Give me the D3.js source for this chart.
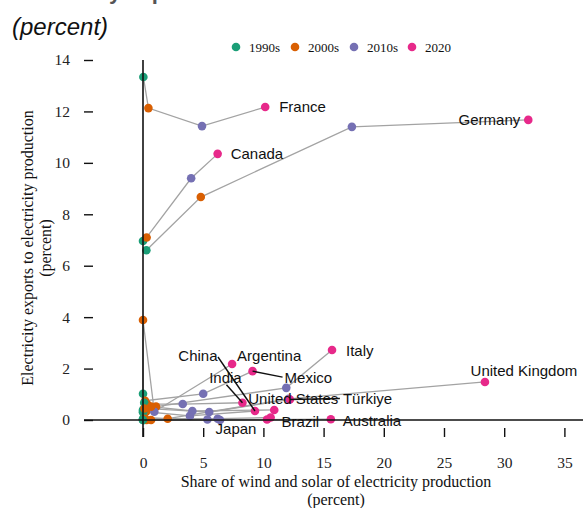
<!DOCTYPE html>
<html>
<head>
<meta charset="utf-8">
<script src="https://cdn.jsdelivr.net/npm/d3@7"></script>
<style>
  html, body { margin: 0; padding: 0; background: #fff; }
  svg { display: block; }
  .serif { font-family: "Liberation Serif", "Times New Roman", serif; }
  .sans { font-family: "Liberation Sans", Arial, sans-serif; }
</style>
</head>
<body>
<svg id="chart" width="585" height="508"></svg>
<script>
// Decades and countries
const decades = ["1990s", "2000s", "2010s", "2020"];
const countries = ["France", "Germany", "Canada", "Italy", "United Kingdom", "China",
  "Argentina", "India", "Mexico", "United States", "Türkiye", "Brazil", "Japan", "Australia"];

// Share of wind and solar in electricity production (%), per decade, by country
const windSolar1990s = [0.03, 0.28, 0.0, 0.0, 0.1, 0.0, 0.0, 0.1, 0.0, 0.1, 0.0, 0.0, 0.0, 0.0];
const windSolar2000s = [0.45, 4.8, 0.3, 1.08, 2.05, 0.25, 0.0, 0.34, 0.17, 0.67, 0.12, 0.1, 0.3, 0.67];
const windSolar2010s = [4.9, 17.35, 4.0, 11.9, 12.1, 3.9, 0.94, 3.3, 5.0, 4.1, 5.5, 6.2, 5.35, 6.4];
const windSolar2020  = [10.15, 32.0, 6.2, 15.7, 28.4, 9.3, 7.4, 8.26, 9.1, 10.9, 12.2, 10.6, 10.3, 15.6];

// Electricity exports as share of electricity production (%), per decade, by country
const exports1990s = [13.34, 6.6, 6.96, 0.35, 0.1, 0.05, 0.4, 0.0, 1.02, 0.67, 0.3, 0.02, 0.0, 0.0];
const exports2000s = [12.13, 8.67, 7.1, 0.52, 0.05, 0.32, 3.89, 0.62, 0.75, 0.52, 0.45, 0.05, 0.0, 0.0];
const exports2010s = [11.43, 11.4, 9.4, 1.25, 0.82, 0.16, 0.32, 0.62, 1.02, 0.35, 0.31, 0.05, 0.02, 0.0];
const exports2020  = [12.17, 11.67, 10.35, 2.72, 1.48, 0.35, 2.18, 0.67, 1.9, 0.39, 0.8, 0.1, 0.02, 0.03];

// Axis ticks
const xTicks = [0, 5, 10, 15, 20, 25, 30, 35];
const yTicks = [0, 2, 4, 6, 8, 10, 12, 14];

// ---- assemble rows ----
const xSeries = [windSolar1990s, windSolar2000s, windSolar2010s, windSolar2020];
const ySeries = [exports1990s, exports2000s, exports2010s, exports2020];
const tracks = countries.map((c, i) => ({
  country: c,
  pts: decades.map((d, k) => ({ country: c, decade: d, x: xSeries[k][i], y: ySeries[k][i] }))
}));
const allPts = tracks.flatMap(t => t.pts);

// ---- layout ----
const svg = d3.select("#chart");
const x = d3.scaleLinear().domain([0, 35]).range([143, 564.4]);
const y = d3.scaleLinear().domain([0, 14]).range([420, 60]);
const color = d3.scaleOrdinal().domain(decades).range(["#1b9e77", "#d95f02", "#7570b3", "#e7298a"]);

// Title (runs off the top edge) and subtitle
svg.append("text").attr("class", "sans")
  .attr("x", 16).attr("y", -1)
  .attr("font-size", 22).attr("font-weight", "bold").attr("fill", "#555")
  .text("Electricity exports and wind and solar");
svg.append("text").attr("class", "sans")
  .attr("x", 12).attr("y", 35)
  .attr("font-size", 24).attr("font-style", "italic").attr("fill", "#111")
  .text("(percent)");

// Legend
const legendX = [236, 295, 354, 412];
const legend = svg.append("g").attr("class", "serif");
decades.forEach((d, i) => {
  legend.append("circle").attr("cx", legendX[i]).attr("cy", 47).attr("r", 4.3).attr("fill", color(d));
  legend.append("text").attr("x", legendX[i] + 13).attr("y", 51.5)
    .attr("font-size", 13).attr("fill", "#111").text(d);
});

// Y axis (ticks to the left of the panel)
const yAxis = svg.append("g").attr("class", "serif")
  .attr("transform", "translate(93,0)")
  .call(d3.axisLeft(y).tickValues(yTicks).tickSize(9).tickPadding(14).tickFormat(d3.format("d")));
yAxis.select(".domain").remove();
yAxis.selectAll(".tick line").attr("stroke", "#111").attr("stroke-width", 1.4);
yAxis.selectAll(".tick text").attr("font-size", 15.5).attr("fill", "#222").attr("font-family", null);

// X axis (ticks below the panel)
const xAxis = svg.append("g").attr("class", "serif")
  .attr("transform", "translate(0,428)")
  .call(d3.axisBottom(x).tickValues(xTicks).tickSize(9).tickPadding(20).tickFormat(d3.format("d")));
xAxis.select(".domain").remove();
xAxis.selectAll(".tick line").attr("stroke", "#111").attr("stroke-width", 1.4);
xAxis.selectAll(".tick text").attr("font-size", 15.5).attr("fill", "#222").attr("font-family", null);

// Axis titles
svg.append("text").attr("class", "serif")
  .attr("text-anchor", "middle").attr("font-size", 16).attr("fill", "#111")
  .attr("x", 336).attr("y", 487).text("Share of wind and solar of electricity production");
svg.append("text").attr("class", "serif")
  .attr("text-anchor", "middle").attr("font-size", 16).attr("fill", "#111")
  .attr("x", 336).attr("y", 505).text("(percent)");
const yTitle = svg.append("g").attr("transform", "translate(33,248) rotate(-90)");
yTitle.append("text").attr("class", "serif").attr("text-anchor", "middle")
  .attr("font-size", 16).attr("fill", "#111").attr("y", 0)
  .text("Electricity exports to electricity production");
yTitle.append("text").attr("class", "serif").attr("text-anchor", "middle")
  .attr("font-size", 16).attr("fill", "#111").attr("y", 18)
  .text("(percent)");

// Trajectories 1990s -> 2020
const line = d3.line().x(d => x(d.x)).y(d => y(d.y));
svg.append("g").selectAll("path").data(tracks).join("path")
  .attr("d", d => line(d.pts))
  .attr("fill", "none").attr("stroke", "#a3a3a3").attr("stroke-width", 1.3);

// Points
svg.append("g").selectAll("circle").data(allPts).join("circle")
  .attr("cx", d => x(d.x)).attr("cy", d => y(d.y)).attr("r", 4.3)
  .attr("fill", d => color(d.decade));

// Reference lines at zero
svg.append("line").attr("x1", x(0)).attr("x2", x(0)).attr("y1", 60).attr("y2", 437)
  .attr("stroke", "#111").attr("stroke-width", 1.6);
svg.append("line").attr("x1", 84).attr("x2", 583).attr("y1", y(0)).attr("y2", y(0))
  .attr("stroke", "#111").attr("stroke-width", 1.6);

// Country labels at the 2020 point: offset, anchor, and optional leader end (relative to label)
const labelLayout = {
  "France":         { dx: 14,  dy: 0,   anchor: "start" },
  "Germany":        { dx: -8,  dy: 0,   anchor: "end" },
  "Canada":         { dx: 13,  dy: 0,   anchor: "start" },
  "Italy":          { dx: 14,  dy: 1,   anchor: "start" },
  "United Kingdom": { dx: 39,  dy: -11, anchor: "middle" },
  "China":          { dx: -57, dy: -55, anchor: "middle", lead: [20, 1] },
  "Argentina":      { dx: 5,   dy: -8,  anchor: "start" },
  "India":          { dx: -17, dy: -25, anchor: "middle", lead: [1, 7] },
  "Mexico":         { dx: 32,  dy: 7,   anchor: "start", lead: [-2, -1] },
  "United States":  { dx: 19,  dy: -11, anchor: "middle" },
  "Türkiye":        { dx: 53,  dy: -1,  anchor: "start", lead: [-3, 0] },
  "Brazil":         { dx: 11,  dy: 4,   anchor: "start" },
  "Japan":          { dx: -31, dy: 9,   anchor: "middle" },
  "Australia":      { dx: 12,  dy: 2,   anchor: "start" }
};
const last = tracks.map(t => t.pts[3]);
const labels = svg.append("g");
last.forEach(p => {
  const L = labelLayout[p.country];
  const px = x(p.x), py = y(p.y);
  const lx = px + L.dx, ly = py + L.dy;
  if (L.lead) {
    labels.append("line")
      .attr("x1", px).attr("y1", py)
      .attr("x2", lx + L.lead[0]).attr("y2", ly + L.lead[1])
      .attr("stroke", "#111").attr("stroke-width", 1.4);
  }
  labels.append("text").attr("class", "sans")
    .attr("x", lx).attr("y", ly).attr("dy", "0.35em")
    .attr("text-anchor", L.anchor).attr("font-size", 15).attr("fill", "#111")
    .text(p.country);
});
</script>
</body>
</html>
